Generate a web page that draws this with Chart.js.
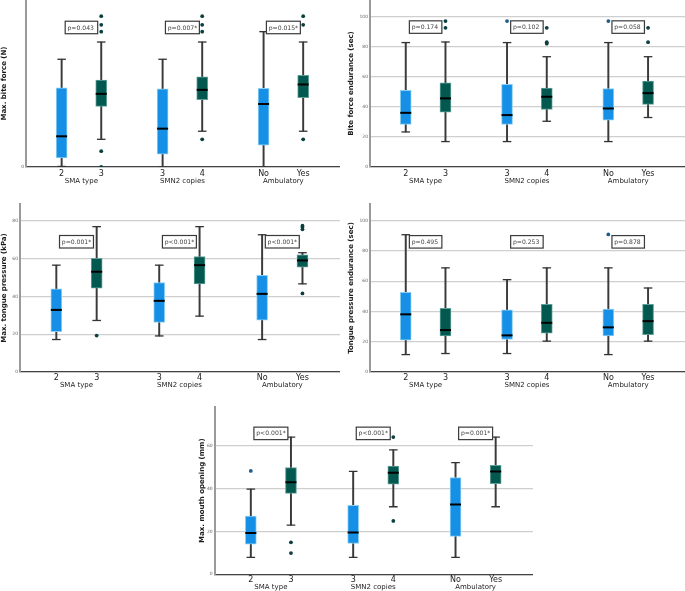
<!DOCTYPE html>
<html>
<head>
<meta charset="utf-8">
<script src="https://cdn.jsdelivr.net/npm/chart.js@4.4.0/dist/chart.umd.min.js"></script>
<style>
html,body{margin:0;padding:0;background:#fff;}
body{width:685px;height:591px;position:relative;overflow:hidden;}
canvas{position:absolute;}
</style>
</head>
<body>
<canvas id="c1" width="340" height="195" style="left:0;top:0"></canvas>
<canvas id="c2" width="338" height="195" style="left:347px;top:0"></canvas>
<canvas id="c3" width="340" height="195" style="left:0;top:195px"></canvas>
<canvas id="c4" width="338" height="195" style="left:347px;top:195px"></canvas>
<canvas id="c5" width="335" height="206" style="left:198px;top:385px"></canvas>
<script>
const categories = ["2","3","3","4","No","Yes"];
const groups = ["SMA type","SMN2 copies","Ambulatory"];
const xPos = [0,1,2.55,3.55,5.1,6.1];
const groupPos = [0.5,3.05,5.6];

// each row: [lower whisker, Q1, median, Q3, upper whisker]
const biteForce = [[5,85,285,735,1000],[257,562,679,806,1160],[0,119,356,726,1000],[332,625,716,838,1160],[0,203,585,731,1256],[332,644,766,850,1160]];
const biteForceOut = [[],[1400,1320,1256,147,0],[],[1400,1320,1256,257],[],[1400,1320,257]];
const biteForceP = ["p=0.043","p=0.007*","p=0.015*"];

const biteEnd = [[23.3,28.3,36,50.9,82.7],[16.9,36.5,45.6,56,83.1],[16.9,28.3,34.5,54.9,82.7],[30.4,38.2,46.7,52.4,73.3],[16.9,31.1,38.9,52.2,82.7],[32.9,41.6,49.1,57.1,73.3]];
const biteEndOut = [[],[97,92.5],[97],[92.5,83,82],[97],[92.5,83]];
const biteEndP = ["p=0.174","p=0.102","p=0.058"];

const tongueP = [[17.2,21.4,32.9,44.1,56.6],[27.3,44.4,53.1,60.2,77],[19.1,26.2,37.7,47.4,56.6],[29.6,46.7,56.6,61.2,77],[17.2,27.4,41.4,51.2,72.7],[46.7,55.6,59.1,62.1,63.2]];
const tonguePOut = [[],[19.3],[],[],[],[77.5,76.8,75.6,41.6]];
const tonguePP = ["p=0.001*","p<0.001*","p<0.001*"];

const tongueEnd = [[11.5,21,38.1,52.7,90.7],[12.2,23.9,27.7,42.1,68.8],[12.2,21.5,24.2,41.1,61],[20.4,25.7,32.5,44.7,68.8],[11.5,23.9,29.5,41.6,68.8],[20.4,24.6,33.6,44.7,55.5]];
const tongueEndOut = [[],[],[],[],[90.9],[]];
const tongueEndP = ["p=0.495","p=0.253","p=0.878"];

const mouth = [[7.9,14.1,19.2,27.1,39.7],[22.9,37.7,42.9,49.8,64],[7.9,14.4,19.5,32.2,48],[31.5,42,47.3,50.4,58],[7.9,17.7,32.6,45.1,52.1],[31.5,42.3,47.9,50.8,64]];
const mouthOut = [[48.2],[14.9,9.9],[],[64,24.9],[],[]];
const mouthP = ["p<0.001*","p<0.001*","p=0.001*"];

const FONT = "'DejaVu Sans', Verdana, sans-serif";

const pBoxes = {
  id: "pBoxes",
  afterDatasetsDraw(chart, args, opts) {
    const {ctx, scales:{x, y}} = chart;
    ctx.save();
    ctx.font = "6.1px " + FONT;
    ctx.textBaseline = "middle";
    opts.labels.forEach((t, i) => {
      const cx = x.getPixelForValue(groupPos[i]), cy = y.getPixelForValue(opts.y);
      const w = Math.max(32.5, ctx.measureText(t).width + 4.5), h = 12.5;
      ctx.fillStyle = "#fff";
      ctx.fillRect(cx - w/2, cy - h/2, w, h);
      ctx.strokeStyle = "#3a3a3a"; ctx.lineWidth = 1.2;
      ctx.strokeRect(cx - w/2, cy - h/2, w, h);
      ctx.fillStyle = "#444";
      ctx.fillText(t, cx - w/2 + 2.3, cy + 0.5);
    });
    ctx.restore();
  }
};

function panel(id, o) {
  const fill = o.stats.map((s,i) => i%2 ? "#03594f" : "#1690e6");
  const edge = o.stats.map((s,i) => i%2 ? "#5f9f97" : "#8ccff2");
  const outPts = [], outCol = [];
  o.out.forEach((arr, i) => arr.forEach(v => {
    outPts.push({x: xPos[i], y: v});
    outCol.push(i%2 ? "#0b3f3f" : "#1e5c8c");
  }));

  new Chart(document.getElementById(id), {
    type: "bar",
    data: { datasets: [
      { type:"bar", data: o.stats.map((s,i)=>({x:xPos[i], y:[s[0],s[4]]})),
        backgroundColor:"#3a3a3a", barThickness:1.3, grouped:false, order:5 },
      { type:"bar", data: o.stats.map((s,i)=>({x:xPos[i], y:[s[1],s[3]]})),
        backgroundColor:fill, borderColor:edge, borderWidth:1, borderSkipped:false,
        barThickness:11, grouped:false, order:4 },
      { type:"scatter", data: o.stats.flatMap((s,i)=>[{x:xPos[i],y:s[0]},{x:xPos[i],y:s[4]}]),
        pointStyle:"line", pointRadius:4.3, pointBorderColor:"#333", pointBorderWidth:1.3, order:3 },
      { type:"scatter", data: o.stats.map((s,i)=>({x:xPos[i],y:s[2]})),
        pointStyle:"line", pointRadius:5.5, pointBorderColor:"#000", pointBorderWidth:2, order:2 },
      { type:"scatter", data: outPts, pointRadius:1.9, pointBackgroundColor:outCol,
        pointBorderWidth:0, order:1 }
    ]},
    options: {
      responsive:false, animation:false, events:[],
      layout:{ autoPadding:false, padding:{ top:o.padTop, bottom:o.padBottom, left:0, right:0 } },
      plugins:{ legend:{display:false}, tooltip:{enabled:false},
        pBoxes:{ labels:o.pvals, y:o.pY } },
      scales:{
        x:{ type:"linear", min:-0.9, max:7.03, offset:false, weight:0,
          grid:{display:false, drawTicks:false, offset:false},
          border:{display:true, color:"#444", width:1.3},
          afterBuildTicks: s => { s.ticks = xPos.map(v=>({value:v})); },
          afterFit: s => { s.height = o.tickH; s.paddingLeft = 0; s.paddingRight = 0; },
          ticks:{ autoSkip:false, maxRotation:0, padding:o.tickPad, color:"#222",
            font:{family:FONT, size:8}, callback:(v,i)=>categories[i] } },
        x2:{ type:"linear", position:"bottom", min:-0.9, max:7.03, offset:false, weight:1,
          grid:{display:false, drawTicks:false}, border:{display:false},
          afterBuildTicks: s => { s.ticks = groupPos.map(v=>({value:v})); },
          afterFit: s => { s.height = o.groupH; s.paddingLeft = 0; s.paddingRight = 0; },
          ticks:{ autoSkip:false, maxRotation:0, padding:0, color:"#222",
            font:{family:FONT, size:7}, callback:(v,i)=>groups[i] } },
        y:{ min:0, max:o.yMax,
          grid:{color:"#cfcfcf", lineWidth:1.3, drawTicks:false},
          border:{display:true, color:"#9a9a9a", width:2},
          afterBuildTicks: s => { s.ticks = s.ticks.filter(t => t.value % o.step === 0); },
          afterFit: s => { s.width = o.yW; s.paddingTop = 0; s.paddingBottom = 0; },
          ticks:{ stepSize:o.step, includeBounds:false, padding:2, color:"#666",
            font:{family:FONT, size:4.5} },
          title:{ display:true, text:o.title, color:"#1a1a1a", padding:0,
            font:{family:FONT, size:7, weight:"bold"} } }
      }
    },
    plugins:[pBoxes]
  });
}

panel("c1", {stats:biteForce, out:biteForceOut, pvals:biteForceP, pY:1295, yMax:1550, step:500,
  title:"Max. bite force (N)", yW:26, padTop:0, padBottom:8, tickH:10, groupH:10, tickPad:2});
panel("c2", {stats:biteEnd, out:biteEndOut, pvals:biteEndP, pY:93, yMax:111, step:20,
  title:"Bite force endurance (sec)", yW:23, padTop:0, padBottom:8, tickH:10, groupH:10, tickPad:2});
panel("c3", {stats:tongueP, out:tonguePOut, pvals:tonguePP, pY:69, yMax:89, step:20,
  title:"Max. tongue pressure (kPa)", yW:20, padTop:9, padBottom:1, tickH:9, groupH:8, tickPad:1});
panel("c4", {stats:tongueEnd, out:tongueEndOut, pvals:tongueEndP, pY:86, yMax:111, step:20,
  title:"Tongue pressure endurance (sec)", yW:23, padTop:9, padBottom:1, tickH:9, groupH:8, tickPad:1});
panel("c5", {stats:mouth, out:mouthOut, pvals:mouthP, pY:65.7, yMax:78, step:20,
  title:"Max. mouth opening (mm)", yW:16.7, padTop:22, padBottom:0, tickH:9, groupH:7.7, tickPad:1});
</script>
</body>
</html>
